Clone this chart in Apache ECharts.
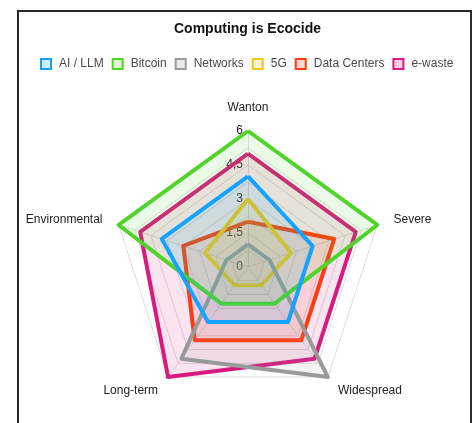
<!DOCTYPE html>
<html>
<head>
<meta charset="utf-8">
<script src="https://cdn.jsdelivr.net/npm/echarts@6/dist/echarts.min.js"></script>
<style>
  html, body { margin: 0; padding: 0; background: #fff; }
  #chart { width: 474px; height: 423px; }
  #frame {
    position: absolute; left: 17px; top: 10px; width: 451px; height: 420px;
    border: 2px solid #2a2a2a; pointer-events: none;
  }
</style>
</head>
<body>
<div id="chart"></div>
<div id="frame"></div>
<script>
  // indicators listed counter-clockwise from the top (echarts order)
  var axisNames = ['Wanton', 'Environmental', 'Long-term', 'Widespread', 'Severe']
  var seriesNames = ['AI / LLM', 'Bitcoin', 'Networks', '5G', 'Data Centers', 'e-waste']
  var colors = ['#16a3ff', '#4fd42a', '#9a9a9a', '#f7c21c', '#ff3a12', '#d81b7e']

  // values in the same order as axisNames
  var aiLlm = [4, 4, 3, 3, 3]
  var bitcoin = [6, 6, 2, 2, 6]
  var networks = [1, 1, 5, 6, 1]
  var fiveG = [3, 2, 1, 1, 2]
  var dataCenters = [2, 3, 4, 4, 4]
  var eWaste = [5, 5, 6, 5, 5]
  var values = [aiLlm, bitcoin, networks, fiveG, dataCenters, eWaste]

  var tickStep = 1.5
  var maxValue = 6

  var chart = echarts.init(document.getElementById('chart'))

  function hexAlpha(hex, a) {
    var n = parseInt(hex.slice(1), 16)
    return 'rgba(' + (n >> 16) + ',' + ((n >> 8) & 255) + ',' + (n & 255) + ',' + a + ')'
  }

  var indicators = axisNames.map(function (name, i) {
    var ind = { name: name, min: 0, max: maxValue }
    if (i === 0) {
      ind.axisLabel = { show: true }
    }
    return ind
  })

  var series = seriesNames.map(function (name, i) {
    return {
      name: name,
      type: 'radar',
      z: 2 + (seriesNames.length - i),
      symbol: 'none',
      lineStyle: { color: colors[i], width: 4 },
      itemStyle: { color: colors[i] },
      areaStyle: { color: hexAlpha(colors[i], 0.17) },
      emphasis: { disabled: true },
      data: [{ value: values[i], name: name }]
    }
  })

  chart.setOption({
    animation: false,
    textStyle: { fontFamily: 'Liberation Sans, Arial, sans-serif' },
    title: {
      text: 'Computing is Ecocide',
      left: 169,
      top: 17,
      textStyle: { fontSize: 14, fontWeight: 'bold', color: '#111' }
    },
    legend: {
      top: 53,
      left: 35,
      itemWidth: 10,
      itemHeight: 10,
      itemGap: 8,
      textStyle: { fontSize: 12, color: '#4a4a4a', padding: [0, 0, 0, 3] },
      data: seriesNames.map(function (name, i) {
        return {
          name: name,
          icon: 'rect',
          itemStyle: { color: hexAlpha(colors[i], 0.2), borderColor: colors[i], borderWidth: 2 }
        }
      })
    },
    radar: {
      center: [248, 267],
      radius: 136,
      startAngle: 90,
      splitNumber: 8,
      shape: 'polygon',
      nameGap: 17,
      axisName: { color: '#222', fontSize: 12 },
      axisLine: { lineStyle: { color: '#dcdcdc', width: 1 } },
      splitLine: { lineStyle: { color: '#dcdcdc', width: 1 } },
      splitArea: { show: false },
      axisLabel: {
        show: false,
        color: '#222',
        fontSize: 12,
        margin: 5,
        formatter: function (v) {
          var r = Math.round(v * 100) % Math.round(tickStep * 100)
          return r === 0 ? String(v).replace('.', ',') : ''
        }
      },
      indicator: indicators
    },
    series: series
  })
</script>
</body>
</html>
